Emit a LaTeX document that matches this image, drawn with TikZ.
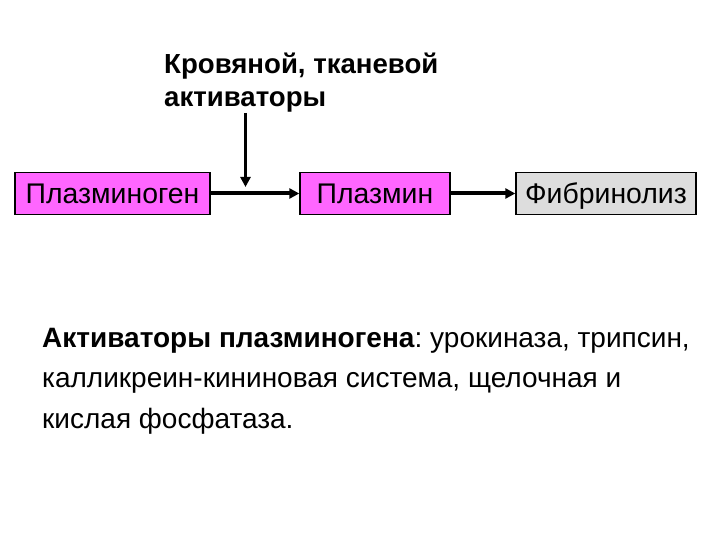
\documentclass[tikz,border=0pt]{standalone}
\usepackage{fontspec}
\setmainfont{Liberation Sans}
\usetikzlibrary{arrows.meta}
\definecolor{pinkbox}{HTML}{FF66FF}
\definecolor{graybox}{HTML}{DDDDDD}
\frenchspacing
\begin{document}
\begin{tikzpicture}[x=1pt,y=-1pt,
  boxstyle/.style={draw=black,line width=1.4pt,minimum height=42pt,inner sep=0pt,text height=20.5pt,text depth=0pt,font=\fontsize{28.4}{33}\selectfont},
  arr/.style={line width=4pt,-{Triangle[length=10pt,width=10pt]}},
  varr/.style={line width=3.2pt,-{Triangle[length=10pt,width=10pt]}}]
\useasboundingbox (0,0) rectangle (720,540);
\node[boxstyle,fill=pinkbox,minimum width=195pt] (pg) at (112.5,193.5) {Плазминоген};
\node[boxstyle,fill=pinkbox,minimum width=150pt] (pm) at (375,193.5) {Плазмин};
\node[boxstyle,fill=graybox,minimum width=180pt] (fb) at (606,193.5) {Фибринолиз};
\node[anchor=north west,align=left,font=\fontsize{27.6}{33}\selectfont\bfseries,inner sep=0pt] (act) at (164,53) {Кровяной, тканевой\\активаторы};
\coordinate (vtop) at (245.5,113);
\coordinate (vbot) at (245.5,187);
\draw[arr] (pg.east) -- (pm.west);
\draw[arr] (pm.east) -- (fb.west);
\draw[varr] (vtop) -- (vbot);
\node[anchor=north west,align=left,font=\fontsize{28}{40.5}\selectfont,inner sep=0pt] (desc) at (42,328) {\textbf{Активаторы плазминогена}: урокиназа, трипсин,\\калликреин-кининовая система, щелочная и\\кислая фосфатаза.};
\end{tikzpicture}
\end{document}
